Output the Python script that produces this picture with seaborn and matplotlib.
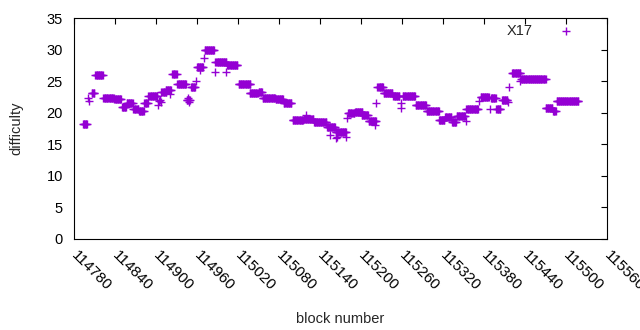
import numpy as np
import pandas as pd
import matplotlib
matplotlib.use('Agg')
import matplotlib.pyplot as plt
import seaborn as sns

# runs of blocks that share the same difficulty (first block, last block, difficulty)
run_start = [114793, 114806, 114811, 114823, 114839, 114850, 114857, 114867, 114875, 114884,
             114889, 114908, 114914, 114924, 114931, 114945, 114951, 114960, 114971, 114987,
             115004, 115021, 115037, 115050, 115056, 115075, 115087, 115100, 115116, 115131,
             115150, 115163, 115181, 115191, 115201, 115211, 115224, 115233, 115247, 115261,
             115280, 115296, 115314, 115323, 115333, 115340, 115354, 115375, 115390, 115398,
             115406, 115421, 115434, 115470, 115481, 115486, 115495]
run_end = [114799, 114810, 114822, 114838, 114849, 114856, 114866, 114874, 114882, 114888,
           114902, 114915, 114922, 114930, 114944, 114950, 114957, 114969, 114985, 115003,
           115019, 115038, 115049, 115055, 115074, 115086, 115098, 115115, 115130, 115149,
           115162, 115178, 115190, 115202, 115210, 115222, 115232, 115246, 115256, 115279,
           115295, 115314, 115322, 115332, 115339, 115352, 115370, 115387, 115397, 115404,
           115414, 115433, 115470, 115480, 115485, 115494, 115518]
run_diff = [18.2, 23.2, 26.0, 22.4, 22.2, 20.9, 21.6, 20.6, 20.3, 21.5,
            22.7, 23.3, 23.6, 26.1, 24.5, 22.0, 24.1, 27.3, 30.0, 28.0,
            27.6, 24.6, 23.1, 23.3, 22.3, 22.2, 21.6, 18.9, 19.0, 18.5,
            17.7, 16.9, 19.9, 20.2, 19.6, 18.7, 24.1, 23.2, 22.7, 22.7,
            21.2, 20.3, 18.8, 19.3, 18.6, 19.5, 20.6, 22.5, 22.3, 20.6,
            22.0, 26.3, 25.4, 20.8, 20.3, 21.8, 21.8]

# isolated blocks
single_block = [114800, 114802, 114883, 114903, 114905, 114906, 114907, 114920, 114947, 114949,
                114958, 114964, 114970, 114986, 115003, 115120, 115155, 115164, 115165, 115178,
                115179, 115221, 115222, 115258, 115259, 115353, 115371, 115373, 115388, 115415,
                115417, 115432]
single_diff = [22.4, 21.8, 21.5, 21.3, 21.8, 22.1, 21.7, 22.9, 22.3, 21.7,
               25.0, 26.8, 28.7, 26.5, 26.5, 19.7, 16.5, 16.0, 16.2, 16.2,
               19.2, 18.1, 21.5, 21.5, 20.7, 18.7, 20.6, 21.8, 20.6, 21.7,
               24.1, 25.0]

blocks, diffs = [], []
for s, e, d in zip(run_start, run_end, run_diff):
    for b in range(s, e + 1):
        blocks.append(b)
        diffs.append(d)
blocks += single_block
diffs += single_diff
df = pd.DataFrame({'block': blocks, 'difficulty': diffs})

sns.set_style('white')
plt.rcParams['font.family'] = ['Liberation Sans', 'DejaVu Sans']

fig = plt.figure(figsize=(6.4, 3.3), dpi=100)
ax = fig.add_axes([0.1156, 0.276, 0.833, 0.669])
sns.scatterplot(data=df, x='block', y='difficulty', marker='+', color='#9400D3',
                s=30, linewidth=1.0, label='X17', ax=ax)

ax.set_xlim(114780, 115560)
ax.set_ylim(0, 35)
ax.set_xticks(np.arange(114780, 115561, 60))
ax.set_yticks(np.arange(0, 36, 5))
ax.tick_params(direction='in', top=True, right=True, length=4, width=0.8,
               labelsize=10.5, colors='black')
ax.tick_params(axis='x', labelsize=11, pad=10)
ax.tick_params(axis='y', pad=8)
for lab in ax.get_xticklabels():
    lab.set_rotation(-45)
    lab.set_ha('left')
    lab.set_va('center')
    lab.set_rotation_mode('anchor')
for sp in ax.spines.values():
    sp.set_color('black')
    sp.set_linewidth(0.8)
ax.set_xlabel('block number', fontsize=10.5, labelpad=14)
ax.set_ylabel('difficulty', fontsize=10.5, labelpad=17)

ax.legend(loc='upper right', bbox_to_anchor=(0.975, 1.035), frameon=False,
          markerfirst=False, fontsize=10.5, handletextpad=1.3, markerscale=1.0)

fig.savefig('out.png', dpi=100)
